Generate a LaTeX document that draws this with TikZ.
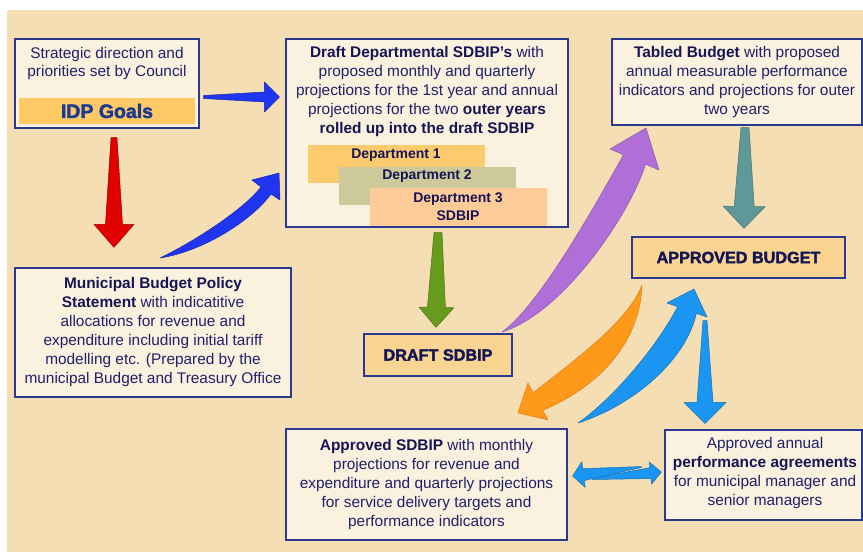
\documentclass[tikz,border=0pt]{standalone}
\usepackage{fontspec}
\setmainfont{Liberation Sans}
\newfontfamily\heavyfont[FakeBold=2.2]{Liberation Sans Bold}
\usetikzlibrary{calc}
\definecolor{bg}{HTML}{F5DEB3}
\definecolor{cream}{HTML}{FBF1DF}
\definecolor{navy}{HTML}{2B3990}
\definecolor{txt}{HTML}{20206A}
\definecolor{txtb}{HTML}{151555}
\definecolor{obox}{HTML}{F9D591}
\definecolor{idpbar}{HTML}{FFC966}
\definecolor{idptxt}{HTML}{1C3A8E}
\definecolor{dep1}{HTML}{FDCB6E}
\definecolor{dep2}{HTML}{CDC99B}
\definecolor{dep3}{HTML}{FFCC99}
\definecolor{cblue}{HTML}{1F35F0}
\definecolor{cred}{HTML}{E00000}
\definecolor{cgreen}{HTML}{679B1D}
\definecolor{cteal}{HTML}{5E9898}
\definecolor{cpurple}{HTML}{B06FD8}
\definecolor{corange}{HTML}{FF9919}
\definecolor{csky}{HTML}{1A96F2}
\newcommand\bodyfont{\fontsize{15.4pt}{19pt}\selectfont}
\newcommand\bt[1]{\textbf{\color{txtb}#1}}
% tapered straight block arrow: from, to, tail half-width, shaft half-width, head half-width, head length, colour
\newcommand\tparrow[7]{%
  \coordinate (tpA) at (#1);
  \coordinate (tpB) at (#2);
  \coordinate (tpH) at ($(tpB)!#6!(tpA)$);
  \path[fill=#7, draw=#7!75!black, line width=0.5pt, line join=round]
    ($(tpA)!#3!90:(tpB)$) -- ($(tpH)!#4!-90:(tpA)$) -- ($(tpH)!#5!-90:(tpA)$)
    -- (tpB) -- ($(tpH)!#5!90:(tpA)$) -- ($(tpH)!#4!90:(tpA)$)
    -- ($(tpA)!#3!-90:(tpB)$) -- cycle;
}
\tikzset{
  box/.style={draw=navy, line width=1.2pt, fill=cream, inner sep=0pt, align=center,
    text=txt, font=\bodyfont},
  obx/.style={box, fill=obox},
  plain/.style={inner sep=0pt, align=center, text=txt, font=\bodyfont},
  deplbl/.style={inner sep=0pt, align=center, text=txtb,
    font=\fontsize{14pt}{18pt}\selectfont\bfseries},
  heavy/.style={inner sep=0pt, text=txtb, font=\heavyfont\fontsize{16.2pt}{18pt}\selectfont},
  curved/.style={line width=0.5pt, line join=round}
}
\begin{document}
\begin{tikzpicture}[x=1pt,y=-1pt]
\useasboundingbox (0,0) rectangle (863,552);
\fill[white] (0,0) rectangle (863,552);
\fill[bg] (7,10) rectangle (863,552);

% ---- boxes ----
\node[box, minimum width=184pt, minimum height=89pt] (strat) at (107,83.5) {};
\node[plain, font=\fontsize{15.4pt}{18pt}\selectfont] (strattext) at (107,64)
  {Strategic direction and\\priorities set by Council};
\node[fill=idpbar, minimum width=176pt, minimum height=26pt, inner sep=0pt,
  text=idptxt, font=\heavyfont\fontsize{19.5pt}{22pt}\selectfont] (idp) at (107,111) {IDP Goals};

\node[box, minimum width=282pt, minimum height=188pt] (draft) at (427,133) {};
\node[plain] (drafttext) at (427,92)
  {\bt{Draft Departmental SDBIP's} with\\proposed monthly and quarterly\\
   projections for the 1st year and annual\\projections for the two \bt{outer years}\\
   \bt{rolled up into the draft SDBIP}};
\fill[dep1] (308,145) rectangle (485,183);
\node[deplbl] (d1) at (396,155) {Department 1};
\fill[dep2] (339,167) rectangle (516,205);
\node[deplbl] (d2) at (427,176) {Department 2};
\fill[dep3] (370,188) rectangle (547,226);
\node[deplbl] (d3) at (458,207) {Department 3\\SDBIP};

\node[box, minimum width=250pt, minimum height=86pt] (tabled) at (737,82)
  {\bt{Tabled Budget} with proposed\\annual measurable performance\\
   indicators and projections for outer\\two years};

\node[obx, minimum width=213pt, minimum height=41pt] (budget) at (738.5,257.5) {};
\node[heavy] (budgettext) at (738.5,257.5) {APPROVED BUDGET};

\node[box, minimum width=276pt, minimum height=129pt] (muni) at (153,332.5)
  {\bt{Municipal Budget Policy}\\\bt{Statement} with indicatitive\\
   allocations for revenue and\\expenditure including initial tariff\\
   modelling etc. (Prepared by the\\municipal Budget and Treasury Office};

\node[obx, minimum width=148pt, minimum height=42pt] (dsdbip) at (438,355) {};
\node[heavy] (dsdbiptext) at (438,355) {DRAFT SDBIP};

\node[box, minimum width=281pt, minimum height=111pt] (asdbip) at (426.5,484.5)
  {\bt{Approved SDBIP} with monthly\\projections for revenue and\\
   expenditure and quarterly projections\\for service delivery targets and\\
   performance indicators};

\node[box, minimum width=197pt, minimum height=90pt] (perf) at (763.5,475) {};
\node[plain] (perftext) at (765,473.5)
  {Approved annual\\\bt{performance agreements}\\for municipal manager and\\senior managers};

% ---- straight arrows ----
\tparrow{$(strat.east)+(4,13.5)$}{$(draft.west)+(-6,-36)$}{1.5pt}{5pt}{15pt}{15pt}{cblue}
\tparrow{$(strat.south)+(7,9)$}{$(muni.north)+(-39,-20)$}{3pt}{8.5pt}{20pt}{23pt}{cred}
\tparrow{$(draft.south)+(11,5)$}{$(dsdbip.north)+(-2,-6)$}{4pt}{9pt}{17.5pt}{20pt}{cgreen}
\tparrow{$(tabled.south)+(8,2)$}{$(budget.north)+(5.5,-8)$}{4pt}{10pt}{21pt}{22pt}{cteal}
\tparrow{$(budget.south)+(-33.5,42)$}{$(perf.north)+(-58.5,-6)$}{2pt}{8pt}{21pt}{21pt}{csky}
\tparrow{$(asdbip.east)+(25,-5.5)$}{$(perf.west)+(-3,-3)$}{0.5pt}{5.5pt}{11pt}{11pt}{csky}
\tparrow{$(perf.west)+(-23,-8)$}{$(asdbip.east)+(5,-8.5)$}{0.5pt}{6pt}{13pt}{11pt}{csky}

% ---- curved arrows ----
\path[curved, fill=cblue, draw=cblue!75!black]
  (160,258) .. controls (195,241) and (243,210) .. (261,187) -- (252,180) -- (279,173)
  -- (280,200) -- (271,194) .. controls (253,219) and (205,251) .. (160,258) -- cycle;
\path[curved, fill=cpurple, draw=cpurple!80!black]
  (502,332) .. controls (540,305) and (598,200) .. (623.5,154.8) -- (610,149) -- (646,128)
  -- (659,170) -- (645.5,164.2) .. controls (630,215) and (562,314) .. (502,332) -- cycle;
\path[curved, fill=corange, draw=corange!85!black]
  (642,285) .. controls (628,322) and (572,362) .. (533.2,392.7) -- (528,383) -- (518,413)
  -- (548,420) -- (542.8,410.3) .. controls (596,388) and (640,345) .. (642,285) -- cycle;
\path[curved, fill=csky, draw=csky!75!black]
  (578,423) .. controls (614,398) and (658,345) .. (677.6,306.7) -- (667,303) -- (694,289)
  -- (707,317) -- (696.4,313.3) .. controls (686,360) and (634,405) .. (578,423) -- cycle;
\end{tikzpicture}
\end{document}
